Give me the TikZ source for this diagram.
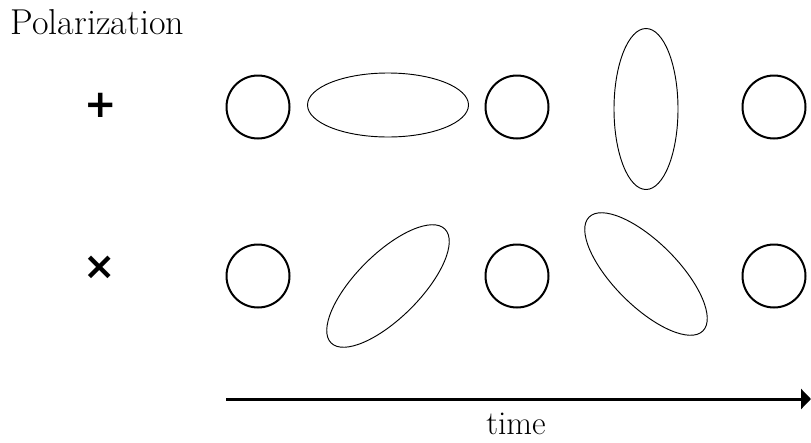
\documentclass[tikz,border=0pt]{standalone}
\usepackage{fontspec}
\usepackage{tikz}
\usetikzlibrary{arrows.meta,positioning,shapes.geometric}
\newfontfamily\signfont{DejaVu Sans}

\begin{document}
\begin{tikzpicture}[
  x=0.75pt, y=-0.75pt,
  circ/.style={draw, circle, line width=1.5pt, inner sep=0pt, minimum size=47.25pt},
  elli/.style={draw, ellipse, line width=0.7pt, inner sep=0pt, minimum width=120.75pt, minimum height=48pt},
  txt/.style={font=\fontsize{27}{30}\selectfont},
  sign/.style={font=\signfont\bfseries\fontsize{29}{29}\selectfont},
  arrow/.style={-{Triangle[length=7.5pt,width=15pt]}, line width=2.25pt}
]
\useasboundingbox (0,0) rectangle (811,443);
\node[txt, anchor=west] (title) at (6,22) {Polarization};
\node[sign] (plus) at (101,105) {+};
\node[sign] (cross) at (100,268) {×};
% + row
\node[circ] (p1) at (258,107) {};
\node[elli] (p2) at (388,105) {};
\node[circ] (p3) at (517,107) {};
\node[elli, rotate=90] (p4) at (646,109) {};
\node[circ] (p5) at (774,107) {};
% x row
\node[circ] (x1) at (258,276) {};
\node[elli, rotate=45] (x2) at (388,286) {};
\node[circ] (x3) at (517,276) {};
\node[elli, rotate=-45] (x4) at (646,274) {};
\node[circ] (x5) at (774,276) {};
% time axis
\coordinate (t0) at (226,399);
\coordinate (t1) at (811,399);
\draw[arrow] (t0) -- (t1);
\node[font=\fontsize{25}{28}\selectfont] (time) at (516,424) {time};
\end{tikzpicture}
\end{document}
